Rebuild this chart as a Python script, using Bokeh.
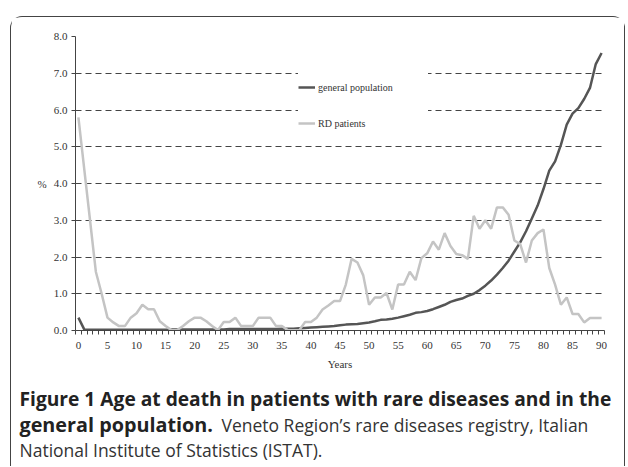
from bokeh.plotting import figure
from bokeh.layouts import column
from bokeh.models import (FixedTicker, PrintfTickFormatter, Legend, LegendItem,
                          Range1d, Div)
from bokeh.embed import file_html
from bokeh.resources import INLINE

# ---------------- data ----------------
years = list(range(0, 91))
general = [
    0.35, 0.03, 0.02, 0.02, 0.02, 0.02, 0.02, 0.02, 0.02, 0.02,
    0.02, 0.02, 0.02, 0.02, 0.02, 0.02, 0.03, 0.03, 0.03, 0.03,
    0.03, 0.03, 0.03, 0.03, 0.03, 0.03, 0.04, 0.04, 0.04, 0.04,
    0.04, 0.04, 0.04, 0.04, 0.04, 0.05, 0.05, 0.05, 0.06, 0.07,
    0.08, 0.09, 0.10, 0.11, 0.12, 0.14, 0.16, 0.17, 0.18, 0.20,
    0.22, 0.25, 0.29, 0.30, 0.32, 0.35, 0.39, 0.43, 0.48, 0.50,
    0.53, 0.58, 0.64, 0.70, 0.78, 0.83, 0.87, 0.94, 1.00, 1.10,
    1.22, 1.36, 1.52, 1.70, 1.90, 2.15, 2.40, 2.70, 3.05, 3.40,
    3.85, 4.35, 4.60, 5.05, 5.60, 5.90, 6.05, 6.30, 6.60, 7.25,
    7.55]
rd_patients = [
    5.80, 4.40, 3.00, 1.60, 1.00, 0.35, 0.22, 0.12, 0.12, 0.35,
    0.47, 0.70, 0.58, 0.58, 0.25, 0.12, 0.01, 0.01, 0.12, 0.25,
    0.35, 0.35, 0.25, 0.12, 0.01, 0.23, 0.23, 0.35, 0.12, 0.12,
    0.12, 0.35, 0.35, 0.35, 0.12, 0.12, 0.01, 0.01, 0.01, 0.23,
    0.23, 0.35, 0.57, 0.68, 0.80, 0.80, 1.25, 1.95, 1.85, 1.50,
    0.70, 0.90, 0.90, 1.02, 0.57, 1.25, 1.25, 1.60, 1.37, 1.97,
    2.10, 2.42, 2.20, 2.65, 2.30, 2.08, 2.05, 1.95, 3.12, 2.77,
    3.00, 2.77, 3.35, 3.35, 3.15, 2.45, 2.35, 1.85, 2.45, 2.65,
    2.75, 1.70, 1.25, 0.70, 0.90, 0.45, 0.45, 0.22, 0.34, 0.34,
    0.34]
series_names = ["general population", "RD patients"]
x_tick_labels = list(range(0, 91, 5))
y_tick_values = list(range(0, 9))
x_label = "Years"
y_label = "%"
caption_bold_1 = "Figure 1 Age at death in patients with rare diseases and in the"
caption_bold_2 = "general population."
caption_reg_2 = "Veneto Region\u2019s rare diseases registry, Italian"
caption_reg_3 = "National Institute of Statistics (ISTAT)."

SERIF = "Liberation Serif"
SANS = "Open Sans"

W, H = 613, 360
p = figure(width=W, height=H, output_backend="svg", toolbar_location=None,
           x_range=Range1d(-0.5, 90.5), y_range=Range1d(0, 8),
           min_border_left=64, min_border_right=W - 64 - 529,
           min_border_top=19, min_border_bottom=H - 19 - 294)
p.outline_line_color = None
p.background_fill_color = "white"
p.border_fill_color = "white"

# grid
p.xgrid.grid_line_color = None
p.ygrid.ticker = FixedTicker(ticks=y_tick_values[1:])
p.ygrid.grid_line_color = "#444444"
p.ygrid.grid_line_dash = "6 4"
p.ygrid.grid_line_width = 1

# x axis
xa = p.xaxis[0]
xa.ticker = FixedTicker(ticks=x_tick_labels,
                        minor_ticks=[y - 0.5 for y in years] + [90.5])
xa.major_tick_line_color = None
xa.major_tick_out = 0
xa.minor_tick_out = 4
xa.minor_tick_in = 0
xa.minor_tick_line_color = "#444444"
xa.axis_line_color = "#444444"
xa.major_label_text_font = SERIF
xa.major_label_text_font_size = "11px"
xa.major_label_text_color = "#333333"
xa.major_label_standoff = 7
xa.axis_label = x_label
xa.axis_label_text_font = SERIF
xa.axis_label_text_font_size = "11px"
xa.axis_label_text_font_style = "normal"
xa.axis_label_text_color = "#333333"
xa.axis_label_standoff = 6

# y axis
ya = p.yaxis[0]
ya.ticker = FixedTicker(ticks=y_tick_values)
ya.formatter = PrintfTickFormatter(format="%.1f")
ya.major_tick_out = 4
ya.major_tick_in = 0
ya.minor_tick_line_color = None
ya.major_tick_line_color = "#444444"
ya.axis_line_color = "#444444"
ya.major_label_text_font = SERIF
ya.major_label_text_font_size = "11px"
ya.major_label_text_color = "#333333"
ya.major_label_standoff = 4
ya.axis_label = y_label
ya.axis_label_orientation = "horizontal"
ya.axis_label_text_font = SERIF
ya.axis_label_text_font_size = "11px"
ya.axis_label_text_font_style = "normal"
ya.axis_label_text_color = "#333333"
ya.axis_label_standoff = 4

# lines
r_gen = p.line(years, general, line_color="#555555", line_width=2.5)
r_rd = p.line(years, rd_patients, line_color="#c4c4c4", line_width=2.5)

legend = Legend(items=[LegendItem(label=series_names[0], renderers=[r_gen]),
                       LegendItem(label=series_names[1], renderers=[r_rd])],
                location=(223, 193), orientation="vertical")
legend.border_line_color = None
legend.background_fill_color = "white"
legend.background_fill_alpha = 1
legend.padding = 8
legend.margin = 0
legend.spacing = 8
legend.glyph_width = 17
legend.glyph_height = 28
legend.label_height = 28
legend.label_width = 110
legend.label_standoff = 3
legend.label_text_font = SERIF
legend.label_text_font_size = "10px"
legend.label_text_color = "#333333"
p.add_layout(legend, "center")

# caption
caption_html = (
    f"<div style=\"font-family:'{SANS}';color:#333333;line-height:22.5px;"
    f"padding:11px 0 0 8.5px;white-space:nowrap;\">"
    f"<span style='font-weight:bold;font-size:19.2px;color:#222222'>{caption_bold_1}</span><br>"
    f"<span style='font-weight:bold;font-size:19.8px;color:#222222'>{caption_bold_2}</span>"
    f"<span style='font-size:17.5px;margin-left:4px'> {caption_reg_2}</span><br>"
    f"<span style='font-size:17.5px'>{caption_reg_3}</span></div>"
)
cap = Div(text=caption_html, width=W, height=89, margin=0)

layout = column(p, cap, spacing=0)
layout.margin = (16, 0, 0, 10)
layout.styles = {"border-left": "1.5px solid #444444",
                 "border-right": "1.5px solid #444444",
                 "border-top": "1.5px solid #444444",
                 "border-top-left-radius": "12px",
                 "border-top-right-radius": "12px",
                 "background-color": "white"}

open("out.html", "w").write(file_html(layout, INLINE))
